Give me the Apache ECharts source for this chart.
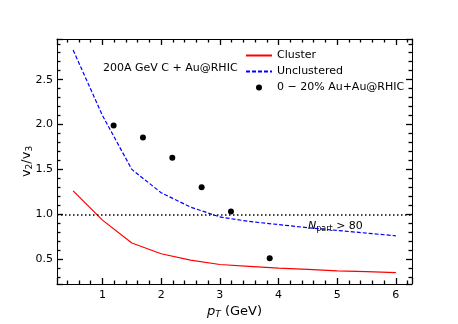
<!DOCTYPE html>
<html>
<head>
<meta charset="utf-8">
<script src="https://cdn.jsdelivr.net/npm/echarts@6/dist/echarts.min.js"></script>
<style>
  html, body { margin: 0; padding: 0; background: #fff; }
  #chart { width: 458px; height: 324px; }
</style>
</head>
<body>
<div id="chart"></div>
<script>
// pT values (GeV) for the model curves
const ptModel = [0.5, 1.0, 1.5, 2.0, 2.5, 3.0, 3.5, 4.0, 4.5, 5.0, 5.5, 6.0];
const clusterV = [1.26, 0.935, 0.68, 0.56, 0.49, 0.44, 0.42, 0.40, 0.385, 0.37, 0.36, 0.35];
const unclusteredV = [2.83, 2.1, 1.5, 1.24, 1.08, 0.97, 0.92, 0.885, 0.85, 0.82, 0.79, 0.76];

// 0-20% Au+Au@RHIC data points
const ptData = [1.19, 1.69, 2.19, 2.69, 3.19, 3.85];
const ratioData = [1.99, 1.855, 1.63, 1.30, 1.03, 0.51];

// tick labels
const xTicks = [1, 2, 3, 4, 5, 6];
const yTicks = [0.5, 1.0, 1.5, 2.0, 2.5];

const refLine = 1.0;

const chart = echarts.init(document.getElementById('chart'));
const font = 'DejaVu Sans';

const zip = (xs, ys) => xs.map((x, i) => [x, ys[i]]);

// fresh axis styling for every axis
const axisStyle = () => ({
  type: 'value',
  axisLine: { show: true, lineStyle: { color: '#000', width: 1 } },
  axisTick: { show: true, inside: true, length: 6, lineStyle: { color: '#000', width: 1.3 } },
  minorTick: { show: true, splitNumber: 5, length: 3.5, lineStyle: { color: '#000', width: 1.3 } },
  splitLine: { show: false }
});

const xRange = { min: 0.225, max: 6.275, splitNumber: 6 };
const yRange = { min: 0.223, max: 2.953, splitNumber: 5 };

const option = {
  animation: false,
  grid: { left: 57, right: 46, top: 39, bottom: 36 },
  xAxis: [
    Object.assign(axisStyle(), xRange, {
      position: 'bottom',
      name: '{i|p}{s|T}{n| (GeV)}',
      nameLocation: 'middle',
      nameGap: 20,
      nameMoveOverlap: false,
      nameTextStyle: {
        rich: {
          i: { fontFamily: font, fontStyle: 'italic', fontSize: 13, color: '#000' },
          s: { fontFamily: font, fontStyle: 'italic', fontSize: 9, color: '#000', padding: [6, 0, 0, 0] },
          n: { fontFamily: font, fontSize: 13, color: '#000' }
        }
      },
      axisLabel: {
        color: '#000', fontFamily: font, fontSize: 11, margin: 6,
        customValues: xTicks,
        formatter: v => String(v)
      }
    }),
    Object.assign(axisStyle(), xRange, {
      position: 'top',
      axisLabel: { show: false }
    })
  ],
  yAxis: [
    Object.assign(axisStyle(), yRange, {
      position: 'left',
      name: '{n|v}{s|2}{n|/v}{s|3}',
      nameLocation: 'middle',
      nameGap: 23,
      nameMoveOverlap: false,
      nameRotate: 90,
      nameTextStyle: {
        rich: {
          n: { fontFamily: font, fontSize: 13, color: '#000' },
          s: { fontFamily: font, fontSize: 9, color: '#000', padding: [6, 0, 0, 0] }
        }
      },
      axisLabel: {
        color: '#000', fontFamily: font, fontSize: 11, margin: 4,
        customValues: yTicks,
        formatter: v => v.toFixed(1)
      }
    }),
    Object.assign(axisStyle(), yRange, {
      position: 'right',
      axisLabel: { show: false }
    })
  ],
  legend: {
    orient: 'vertical',
    left: 240,
    top: 45,
    itemWidth: 26,
    itemHeight: 6,
    itemGap: 5,
    textStyle: { fontFamily: font, fontSize: 11, color: '#000' },
    data: [
      { name: 'Cluster', itemStyle: { opacity: 0 } },
      { name: 'Unclustered', itemStyle: { opacity: 0 } },
      { name: '0 \u2212 20% Au+Au@RHIC', icon: 'circle' }
    ]
  },
  graphic: [
    {
      type: 'text', left: 103, top: 63,
      style: { text: '200A GeV C + Au@RHIC', font: '11px "DejaVu Sans"', fill: '#000' }
    },
    {
      type: 'text', left: 308, top: 221,
      style: {
        text: '{i|N}{s|part}{n| > 80}',
        rich: {
          i: { fontFamily: font, fontStyle: 'italic', fontSize: 11, fill: '#000' },
          s: { fontFamily: font, fontSize: 8, fill: '#000', padding: [5, 0, 0, 0] },
          n: { fontFamily: font, fontSize: 11, fill: '#000' }
        }
      }
    }
  ],
  series: [
    {
      name: 'Cluster',
      type: 'line',
      data: zip(ptModel, clusterV),
      showSymbol: false,
      symbol: 'none',
      lineStyle: { color: '#ff0000', width: 1.2 },
      itemStyle: { color: '#ff0000' },
      markLine: {
        silent: true,
        symbol: 'none',
        label: { show: false },
        lineStyle: { color: '#000', width: 1.5, type: [1.5, 2.5] },
        data: [{ yAxis: refLine }]
      }
    },
    {
      name: 'Unclustered',
      type: 'line',
      data: zip(ptModel, unclusteredV),
      showSymbol: false,
      symbol: 'none',
      lineStyle: { color: '#0000ff', width: 1.2, type: [4, 2] },
      itemStyle: { color: '#0000ff' }
    },
    {
      name: '0 \u2212 20% Au+Au@RHIC',
      type: 'scatter',
      data: zip(ptData, ratioData),
      symbolSize: 6,
      itemStyle: { color: '#000', opacity: 1 }
    }
  ]
};

chart.setOption(option);
</script>
</body>
</html>
